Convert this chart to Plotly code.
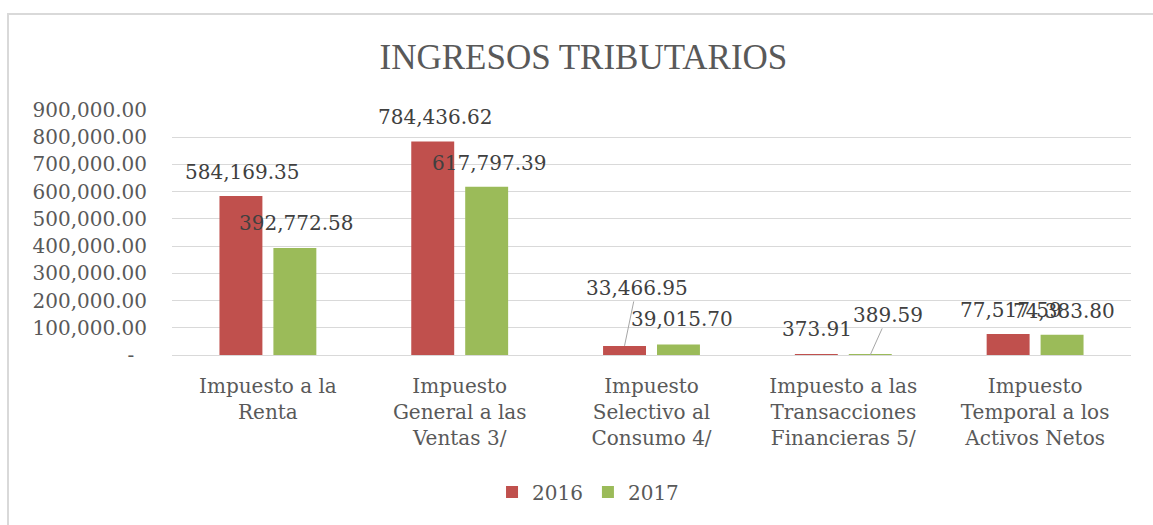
import plotly.graph_objects as go

# ---- data ----
categories = [
    "Impuesto a la<br>Renta",
    "Impuesto<br>General a las<br>Ventas 3/",
    "Impuesto<br>Selectivo al<br>Consumo 4/",
    "Impuesto a las<br>Transacciones<br>Financieras 5/",
    "Impuesto<br>Temporal a los<br>Activos Netos",
]
series_names = ["2016", "2017"]
values_2016 = [584169.35, 784436.62, 33466.95, 373.91, 77517.59]
values_2017 = [392772.58, 617797.39, 39015.70, 389.59, 74383.80]
y_tick_values = [0, 100000, 200000, 300000, 400000, 500000, 600000, 700000, 800000, 900000]

# ---- styling / layout ----
W, H = 1153, 525
ML, MR, MT, MB = 172, 22, 110, 170
BARGAP, GROUPGAP = 0.4375, 0.204
COLORS = ["#C0504D", "#9BBB59"]
TEXT = "#595959"
GRID = "#D9D9D9"
FONT = "DejaVu Serif"

# label placement (pixel offsets of text centre from the bar top centre)
offsets_2016 = [(2, -24), (3, -24), (12, -58), (1, -26), (3, -24)]
offsets_2017 = [(2, -25), (3, -24), (4, -25), (18, -40), (2, -24)]
leader_2016 = [False, False, True, False, False]
leader_2017 = [False, False, False, True, False]

plot_w = W - ML - MR
cat_w = plot_w / len(categories)
slot = cat_w * (1 - BARGAP) / 2
bar_shift = [-slot / 2, slot / 2]

fig = go.Figure()
for name, vals, col in zip(series_names, [values_2016, values_2017], COLORS):
    fig.add_trace(go.Bar(x=categories, y=vals, name=name, marker_color=col,
                         marker_line_width=0))

annotations = []
for s, (vals, offs, leads) in enumerate(zip([values_2016, values_2017],
                                            [offsets_2016, offsets_2017],
                                            [leader_2016, leader_2017])):
    for cat, v, (dx, dy), lead in zip(categories, vals, offs, leads):
        txt = f"{v:,.2f}"
        if lead:
            annotations.append(dict(
                x=cat, y=v, xref="x", yref="y", text=txt,
                xshift=bar_shift[s], showarrow=True, arrowhead=0,
                arrowwidth=1, arrowcolor="#A6A6A6", ax=dx, ay=dy,
                standoff=0, font=dict(family=FONT, size=20, color="#404040"),
            ))
        else:
            annotations.append(dict(
                x=cat, y=v, xref="x", yref="y", text=txt,
                xshift=bar_shift[s] + dx, yshift=-dy, showarrow=False,
                xanchor="center", yanchor="middle",
                font=dict(family=FONT, size=20, color="#404040"),
            ))

# outer chart border (top and left edges visible)
bx = (8 - ML) / plot_w
by = (H - MB - 14) / (H - MT - MB)
fig.add_shape(type="rect", xref="paper", yref="paper", x0=bx, y0=-2, x1=1.5, y1=by,
              line=dict(color=GRID, width=2), layer="below")

tick_text = [f"{v:,.2f}" if v else "-\u00a0\u00a0" for v in y_tick_values]

fig.update_layout(
    width=W, height=H,
    margin=dict(l=ML, r=MR, t=MT, b=MB),
    paper_bgcolor="white", plot_bgcolor="white",
    barmode="group", bargap=BARGAP, bargroupgap=GROUPGAP,
    font=dict(family=FONT, size=20, color=TEXT),
    title=dict(text="INGRESOS TRIBUTARIOS", xref="container", x=0.506,
               yref="container", y=1 - 57 / H, xanchor="center", yanchor="middle",
               font=dict(family="Liberation Serif", size=35, color=TEXT)),
    legend=dict(orientation="h", xref="container", x=0.51, xanchor="center",
                yref="container", y=1 - 492 / H, yanchor="middle",
                font=dict(family=FONT, size=20, color=TEXT), itemwidth=30),
    annotations=annotations,
    showlegend=True,
)
fig.update_yaxes(range=[0, 900000], tickvals=y_tick_values, ticktext=tick_text,
                 showgrid=True, gridcolor=GRID, gridwidth=1, zeroline=False,
                 showline=False, ticks="", ticklabelstandoff=24,
                 tickfont=dict(family=FONT, size=20, color=TEXT))
fig.update_xaxes(showline=True, linecolor=GRID, linewidth=1, ticks="",
                 ticklabelstandoff=13,
                 tickfont=dict(family=FONT, size=20, color=TEXT))

fig.write_html("out.html")
